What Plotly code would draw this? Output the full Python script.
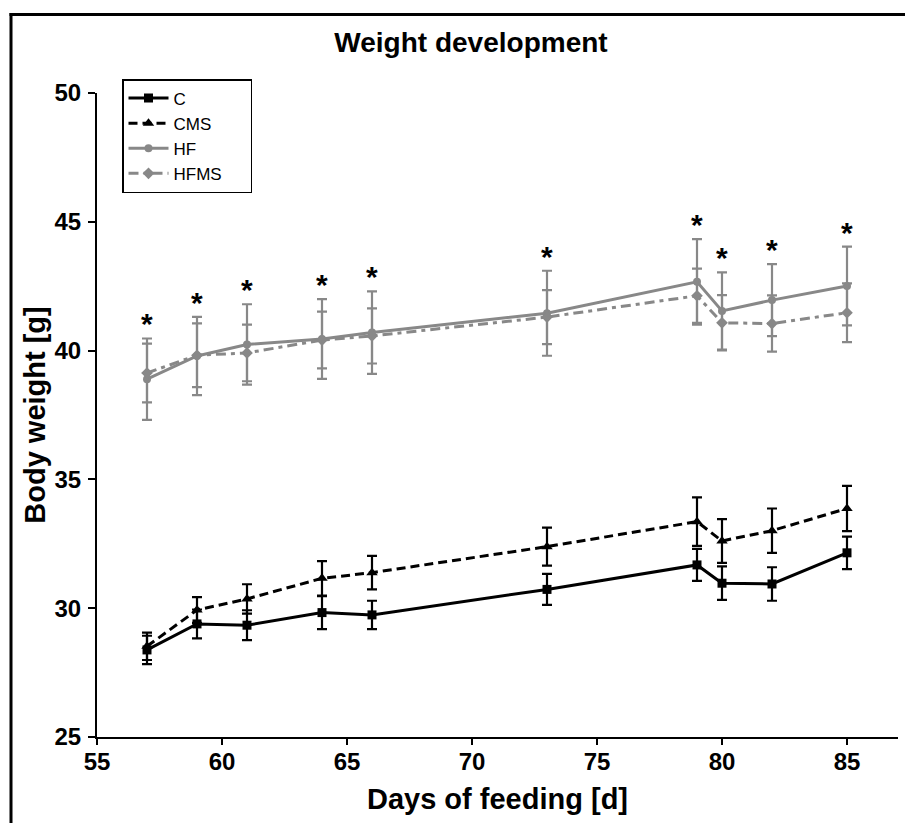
import plotly.graph_objects as go

# ---------------- data ----------------
days = [57, 59, 61, 64, 66, 73, 79, 80, 82, 85]

c_mean = [28.38, 29.39, 29.34, 29.83, 29.74, 30.73, 31.68, 30.97, 30.94, 32.15]
c_err = [0.55, 0.56, 0.58, 0.64, 0.55, 0.60, 0.62, 0.65, 0.65, 0.63]

cms_mean = [28.52, 29.93, 30.36, 31.16, 31.38, 32.39, 33.36, 32.61, 33.01, 33.87]
cms_err = [0.53, 0.50, 0.57, 0.67, 0.65, 0.74, 0.94, 0.85, 0.86, 0.88]

hf_mean = [38.89, 39.79, 40.24, 40.45, 40.70, 41.45, 42.67, 41.54, 41.96, 42.51]
hf_err = [1.58, 1.52, 1.56, 1.55, 1.60, 1.65, 1.66, 1.50, 1.40, 1.53]

hfms_mean = [39.13, 39.82, 39.91, 40.41, 40.57, 41.30, 42.13, 41.08, 41.05, 41.47]
hfms_err = [1.14, 1.24, 1.10, 1.10, 1.07, 1.05, 1.05, 1.07, 1.09, 1.14]

significant = [True] * len(days)

x_ticks = [55, 60, 65, 70, 75, 80, 85]
y_ticks = [25, 30, 35, 40, 45, 50]

title_text = "Weight development"
x_title = "Days of feeding [d]"
y_title = "Body weight [g]"

# ---------------- figure ----------------
FONT = "Liberation Sans, Arial, sans-serif"
BLACK = "#000000"
GRAY = "#888888"
PAD = "\u00a0" * 5  # widens the legend box like the reference

fig = go.Figure()

def add_series(name, y, err, color, symbol, msize, dash):
    fig.add_trace(go.Scatter(
        x=days, y=y, name=name + PAD, mode="lines+markers",
        line=dict(color=color, width=3, dash=dash),
        marker=dict(symbol=symbol, size=msize, color=color),
        error_y=dict(type="data", array=err, visible=True,
                     color=color, thickness=2.2, width=5),
    ))

add_series("C", c_mean, c_err, BLACK, "square", 9, "solid")
add_series("CMS", cms_mean, cms_err, BLACK, "triangle-up", 10, "9px,5px")
add_series("HF", hf_mean, hf_err, GRAY, "circle", 8, "solid")
add_series("HFMS", hfms_mean, hfms_err, GRAY, "diamond", 9, "10px,5px,4px,5px")

# significance asterisks above the highest error bar of the HF groups
for d, sig, m1, e1, m2, e2 in zip(days, significant, hf_mean, hf_err, hfms_mean, hfms_err):
    if sig:
        top = max(m1 + e1, m2 + e2)
        fig.add_annotation(x=d, y=top, xref="x", yref="y", text="<b>*</b>",
                           showarrow=False, yanchor="bottom", yshift=-4,
                           font=dict(family=FONT, size=30, color=BLACK))

# plot area geometry (pixels)
W, H = 905, 823
L, R, T, B = 97, 7, 93, 86
pw, ph = W - L - R, H - T - B

def px_x(px):
    return (px - L) / pw

def px_y(py):
    return (H - B - py) / ph

# outer frame (top and left borders visible)
fig.add_shape(type="line", xref="paper", yref="paper",
              x0=px_x(9.5), x1=px_x(W + 5), y0=px_y(14.5), y1=px_y(14.5),
              line=dict(color=BLACK, width=3), layer="above")
fig.add_shape(type="line", xref="paper", yref="paper",
              x0=px_x(11), x1=px_x(11), y0=px_y(13), y1=px_y(H + 5),
              line=dict(color=BLACK, width=3), layer="above")

x_end = 55 + (W - R - L) / 25.0

fig.update_layout(
    width=W, height=H,
    margin=dict(l=L, r=R, t=T, b=B, pad=0, autoexpand=False),
    paper_bgcolor="white", plot_bgcolor="white",
    font=dict(family=FONT, color=BLACK),
    title=dict(text="<b>" + title_text + "</b>", x=471 / W, xref="container",
               y=1 - 42 / H, yref="container", xanchor="center", yanchor="middle",
               font=dict(family=FONT, size=28, color=BLACK)),
    showlegend=True,
    legend=dict(x=px_x(122), y=px_y(79), xanchor="left", yanchor="top",
                bordercolor=BLACK, borderwidth=1.5, bgcolor="white",
                font=dict(family=FONT, size=17, color=BLACK),
                itemwidth=40, tracegroupgap=0),
    xaxis=dict(range=[55, x_end], tickvals=x_ticks, ticks="outside", ticklen=6,
               tickwidth=2, tickcolor=BLACK, showline=True, linewidth=2,
               linecolor=BLACK, showgrid=False, zeroline=False, automargin=False,
               tickfont=dict(family=FONT, size=24, color=BLACK, weight="bold"),
               ticklabelstandoff=-4,
               title=dict(text="<b>" + x_title + "</b>", standoff=15,
                          font=dict(family=FONT, size=29, color=BLACK))),
    yaxis=dict(range=[25, 50], tickvals=y_ticks, ticks="outside", ticklen=7,
               tickwidth=2, tickcolor=BLACK, showline=True, linewidth=2,
               linecolor=BLACK, showgrid=False, zeroline=False, automargin=False,
               tickfont=dict(family=FONT, size=24, color=BLACK, weight="bold"),
               ticklabelstandoff=2,
               title=dict(text="<b>" + y_title + "</b>", standoff=0,
                          font=dict(family=FONT, size=29, color=BLACK))),
)

fig.write_html(
    "out.html",
    config={"displayModeBar": False},
    post_script="document.body.style.margin='0';document.body.style.overflow='hidden';",
)
